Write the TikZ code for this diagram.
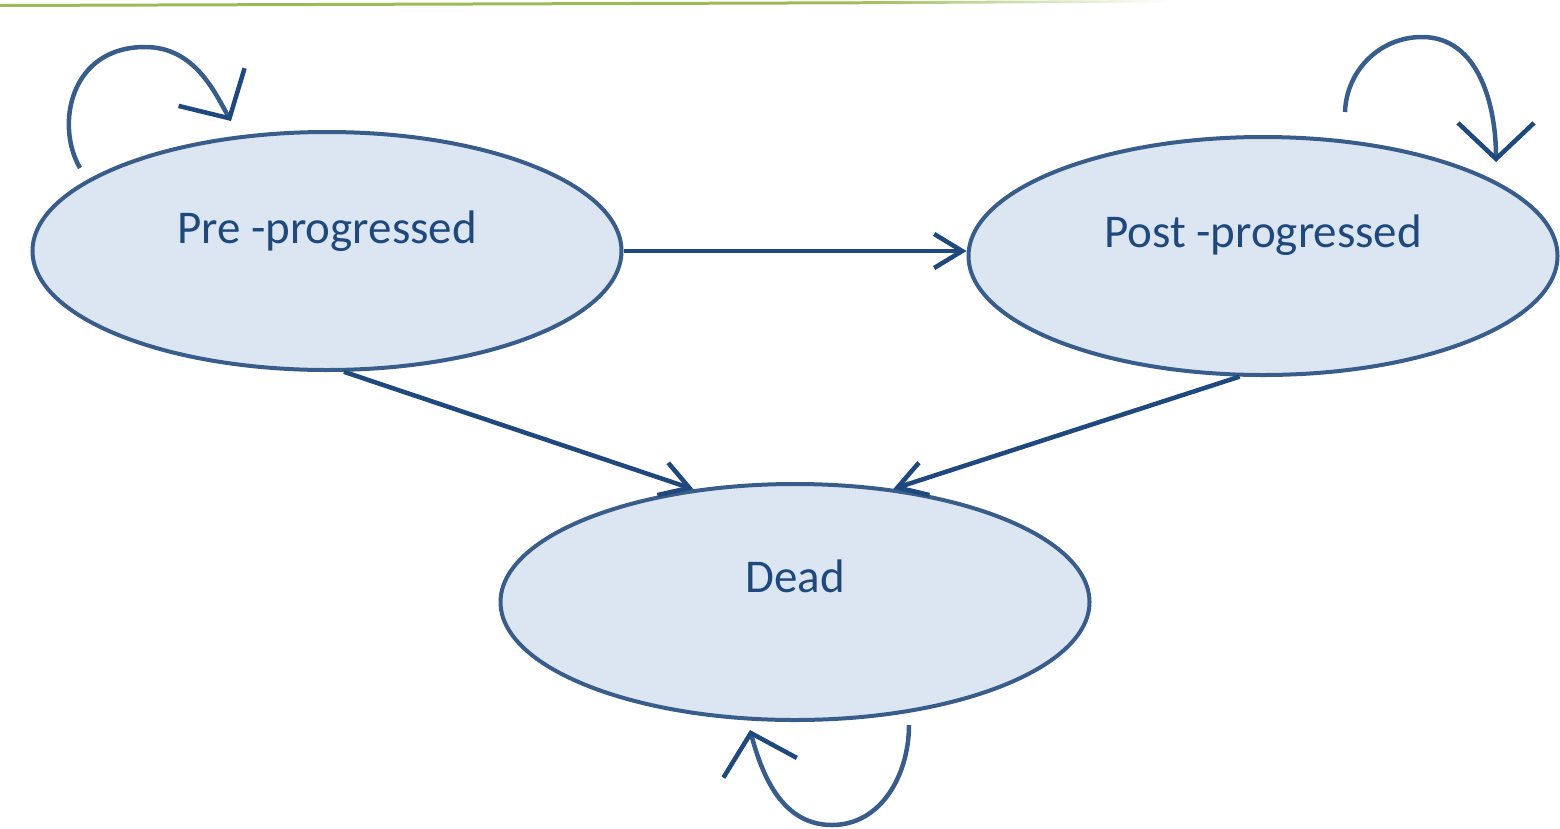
\documentclass[tikz,border=0pt]{standalone}
\usepackage{fontspec}
\setmainfont{Carlito}
\usetikzlibrary{shapes.geometric,arrows.meta,calc}
\definecolor{fillc}{HTML}{DCE6F2}
\definecolor{edgec}{HTML}{385D8A}
\definecolor{arrc}{HTML}{1F497D}
\definecolor{txtc}{HTML}{1F497D}
\definecolor{grn}{HTML}{9BBB59}
\begin{document}
\begin{tikzpicture}[x=1pt,y=1pt,
  state/.style={ellipse, draw=edgec, fill=fillc, line width=4pt, minimum width=589pt, minimum height=238pt, inner sep=0pt},
  lbl/.style={text=txtc, font=\fontsize{47}{54}\selectfont, anchor=base, inner sep=0pt},
  flow/.style={draw=arrc, line width=4.5pt, -{Straight Barb[length=28pt,width=34pt]}},
  loopc/.style={draw=edgec, line width=4.5pt, -{Straight Barb[length=36pt,width=76pt,color=arrc]}}]
\useasboundingbox (0,0) rectangle (1560,-828);
% top green rule
\fill[grn] (0,-4) -- (850,-1.3) -- (850,-4.3) -- (0,-7) -- cycle;
\shade[left color=grn, right color=white] (850,-1.3) -- (1170,0) -- (1170,-2.5) -- (850,-4.3) -- cycle;
% states
\node[state] (pre) at (327,-251) {};
\node[state] (post) at (1263,-256) {};
\node[state, minimum height=236pt] (dead) at (795,-602) {};
\node[lbl] (preT) at ([yshift=8pt]pre.center) {Pre -progressed};
\node[lbl] (postT) at ([yshift=9pt]post.center) {Post -progressed};
\node[lbl] (deadT) at ([yshift=10pt]dead.center) {Dead};
% transitions
\draw[flow] (pre.east) -- (pre.east -| post.west);
\draw[flow] (pre.-82) -- (dead.132);
\draw[flow] (post.-101) -- (dead.49);
% self loops
\coordinate (preA) at (80,-168);
\coordinate (preM) at (145,-47);
\coordinate (preB) at (231,-121);
\draw[loopc] (preA) .. controls (55,-125) and (70,-47) .. (preM) .. controls (195,-47) and (215,-93) .. (preB);
\coordinate (postA) at (1345,-112);
\coordinate (postM) at (1422,-37);
\coordinate (postB) at (1496,-162);
\draw[loopc] (postA) to[out=88,in=180] (postM) to[out=0,in=90] (postB);
\coordinate (deadA) at (909,-725);
\coordinate (deadM) at (832,-825);
\coordinate (deadB) at (750,-730);
\draw[loopc] (deadA) to[out=-90,in=0] (deadM) to[out=180,in=-75] (deadB);
\end{tikzpicture}
\end{document}
